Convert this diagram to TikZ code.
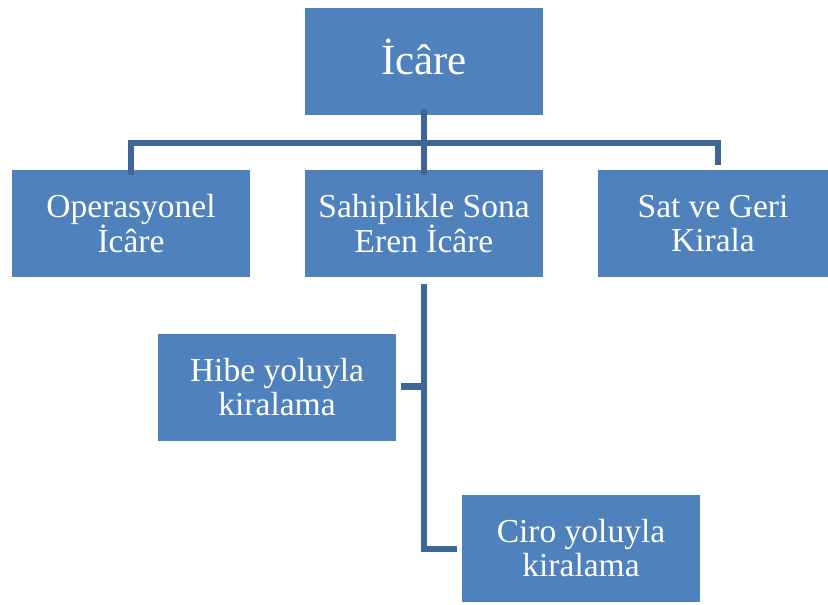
\documentclass[tikz,border=0pt]{standalone}
\usepackage{fontspec}
\setmainfont{Liberation Serif}
\definecolor{boxblue}{HTML}{4F81BD}
\definecolor{linkblue}{HTML}{3E6797}
\begin{document}
\begin{tikzpicture}[x=1pt,y=-1pt,
  orgbox/.style={fill=boxblue, text=white, minimum width=238pt, minimum height=107pt,
    inner sep=0pt, align=center, font=\fontsize{33.5}{34}\selectfont},
  link/.style={draw=linkblue, line width=6.5pt}]
\useasboundingbox (0,0) rectangle (828,605);
% boxes
\node[orgbox, font=\fontsize{43}{44}\selectfont] (root) at (424,61) {};
\node[text=white, font=\fontsize{43}{44}\selectfont, inner sep=0pt] (roottext) at (424,57) {İcâre};
\node[orgbox] (oper) at (131,223.5) {Operasyonel\\İcâre};
\node[orgbox] (sahip) at (424,223.5) {Sahiplikle Sona\\Eren İcâre};
\node[orgbox, minimum width=230pt] (sat) at (713,223.5) {Sat ve Geri\\Kirala};
\node[orgbox] (hibe) at (277,387.5) {Hibe yoluyla\\kiralama};
\node[orgbox] (ciro) at (581,548.5) {Ciro yoluyla\\kiralama};
% bus coordinates
\coordinate (busL) at (131,143);
\coordinate (busR) at (718,143);
\coordinate (satTop) at (718,165);
\coordinate (trunkTop) at (424,284);
\coordinate (hibeJ) at (424,386.5);
\coordinate (ciroJ) at (424,549);
% connectors
\draw[link] ([yshift=6pt]root.south) -- ([yshift=-5pt]sahip.north);
\draw[link] ([yshift=-5pt]oper.north) -- (busL) -- (busR) -- (satTop);
\draw[link] (trunkTop) -- (ciroJ) -- ([xshift=-5pt]ciro.west |- ciroJ);
\draw[link] (hibeJ) -- ([xshift=5pt]hibe.east |- hibeJ);
\end{tikzpicture}
\end{document}
